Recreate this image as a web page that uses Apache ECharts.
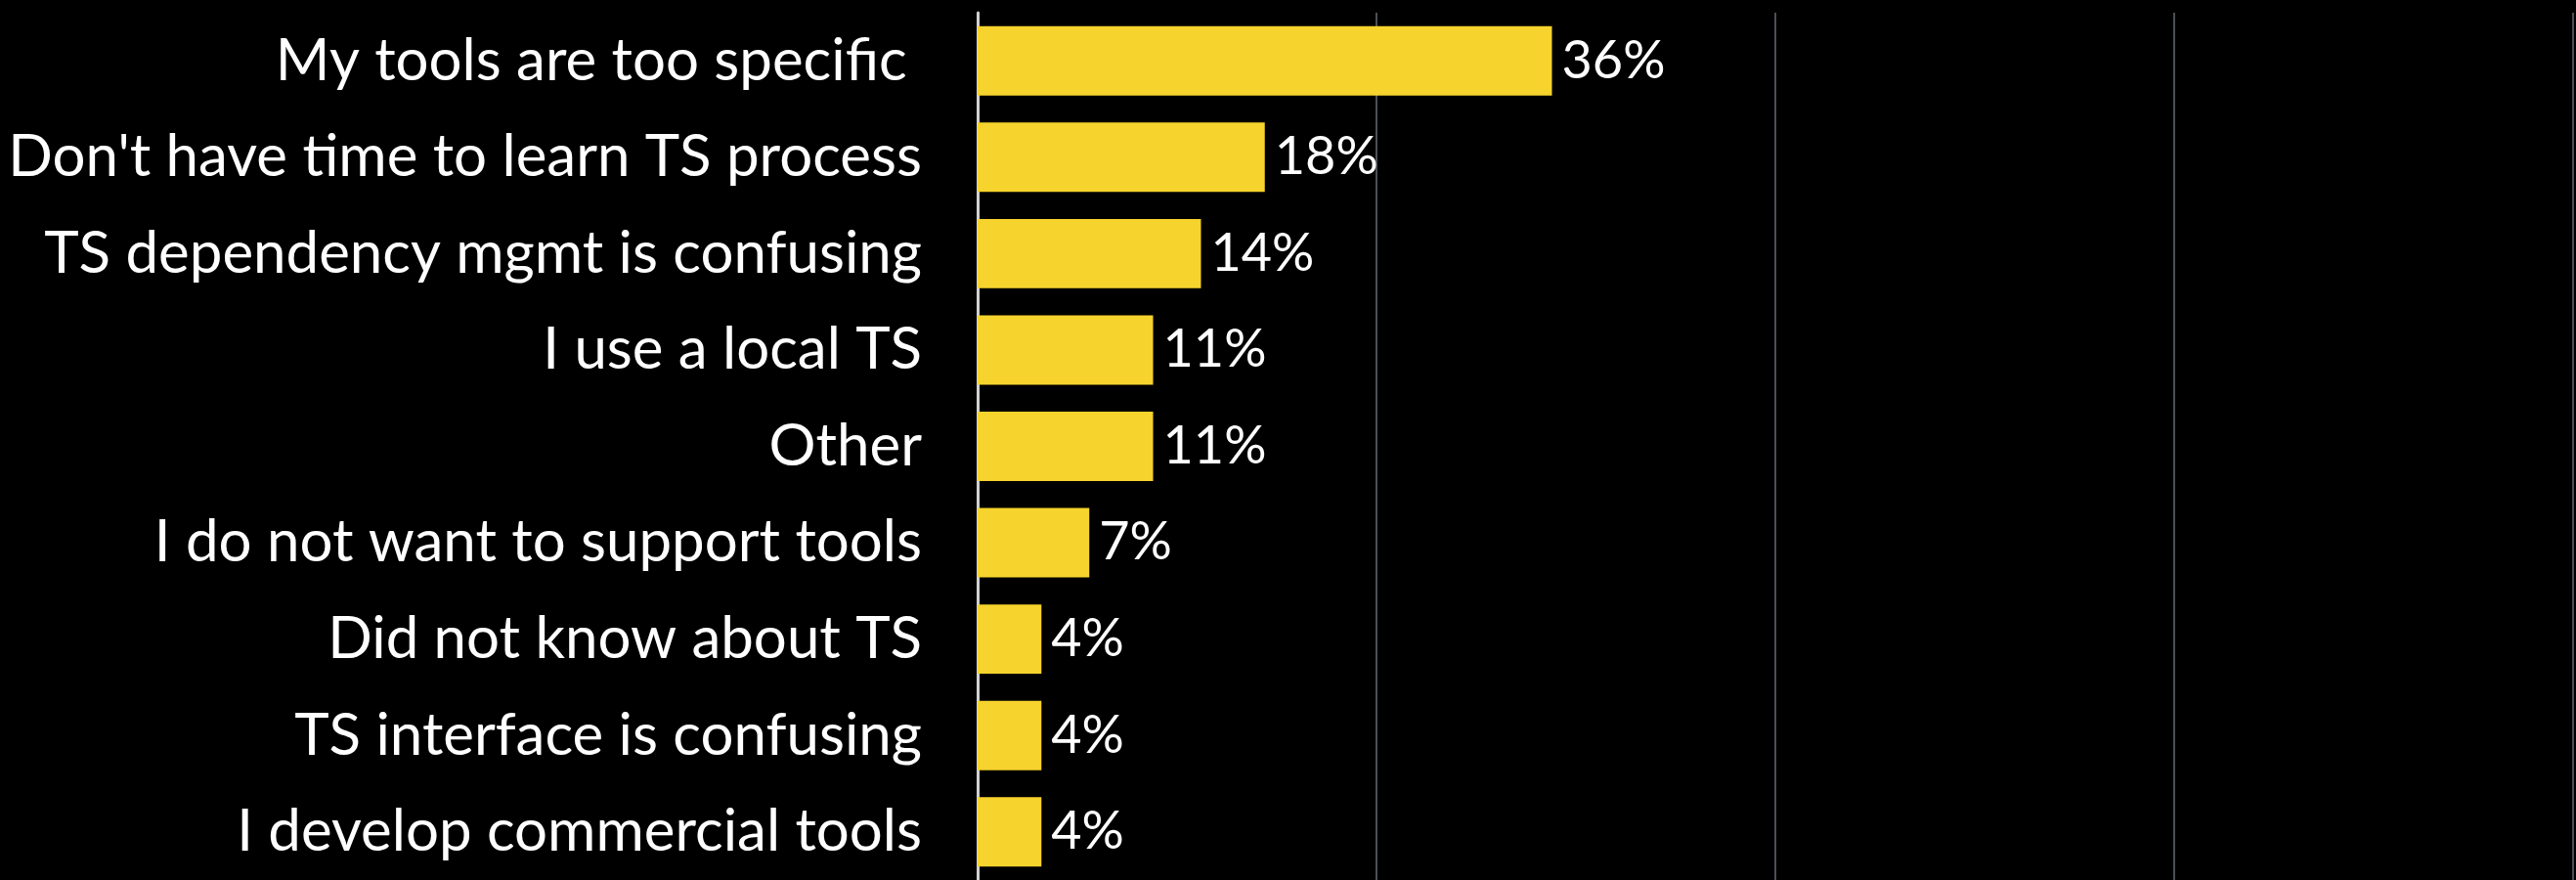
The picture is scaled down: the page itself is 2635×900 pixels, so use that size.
<!DOCTYPE html>
<html>
<head>
<meta charset="utf-8">
<script src="https://cdn.jsdelivr.net/npm/echarts@6/dist/echarts.min.js"></script>
<style>
  html, body { margin: 0; padding: 0; background: #000; }
  #chart { width: 2635px; height: 900px; }
</style>
</head>
<body>
<div id="chart"></div>
<script>
// Reasons for not using the tool shed, share of responses (%)
const categories = [
  'My tools are too specific ',
  "Don't have time to learn TS process",
  'TS dependency mgmt is confusing',
  'I use a local TS',
  'Other',
  'I do not want to support tools',
  'Did not know about TS',
  'TS interface is confusing',
  'I develop commercial tools'
];
const shares = [36, 18, 14, 11, 11, 7, 4, 4, 4];
const axisMax = 100;
const axisStep = 25;

const FONT = 'Lato, "Open Sans", sans-serif';
const chart = echarts.init(document.getElementById('chart'), null, { renderer: 'canvas' });

chart.setOption({
  backgroundColor: '#000000',
  animation: false,
  grid: { left: 1000, right: 3, top: 13, bottom: 0, containLabel: false },
  xAxis: {
    type: 'value',
    min: 0,
    max: axisMax,
    interval: axisStep,
    axisLabel: { show: false },
    axisTick: { show: false },
    axisLine: { show: false },
    splitLine: { show: true, showMinLine: false, lineStyle: { color: '#4b4f55', width: 2 } }
  },
  yAxis: {
    type: 'category',
    data: categories,
    inverse: true,
    axisTick: { show: false },
    axisLine: { show: true, lineStyle: { color: '#d0d0d0', width: 3 } },
    axisLabel: {
      color: '#ffffff',
      fontFamily: FONT,
      fontSize: 60,
      margin: 57
    }
  },
  series: [{
    type: 'bar',
    data: shares,
    barCategoryGap: '28%',
    itemStyle: { color: '#f6d32d' },
    label: {
      show: true,
      position: 'right',
      distance: 10,
      color: '#ffffff',
      fontFamily: FONT,
      fontSize: 54,
      formatter: '{c}%'
    }
  }]
});
</script>
</body>
</html>
